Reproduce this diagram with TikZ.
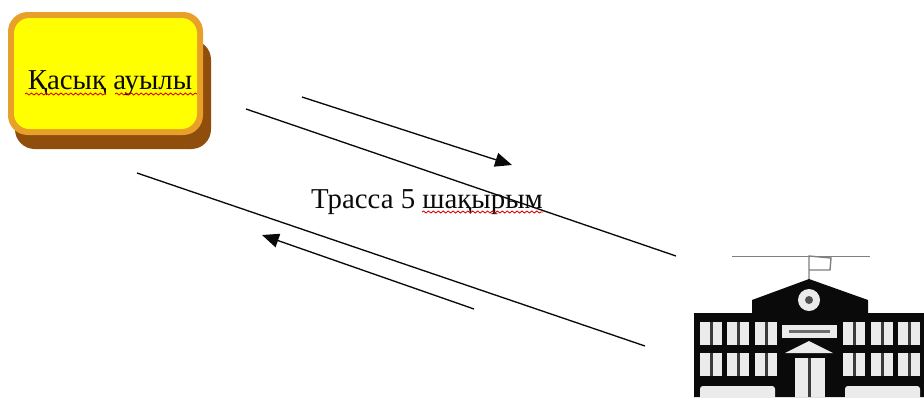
\documentclass[tikz,border=0pt]{standalone}
\usepackage{fontspec}
\setmainfont{Liberation Serif}
\usetikzlibrary{arrows.meta,decorations.pathmorphing}
\definecolor{boxshadow}{HTML}{8F4E0C}
\definecolor{boxrim}{HTML}{E8A028}
\definecolor{boxfill}{HTML}{FFFF00}
\definecolor{inkblack}{HTML}{0A0A0A}
\tikzset{
  road/.style={draw=inkblack, line width=0.95pt},
  way/.style={road, -{Triangle[length=12pt, width=10pt]}},
  squiggle/.style={draw=red!85!black, line width=0.6pt, decorate,
    decoration={snake, amplitude=0.7pt, segment length=3.5pt}},
  label/.style={text=inkblack, font=\fontsize{20.5}{24}\selectfont, inner sep=0pt},
  pane/.style={fill=white!92!black},
}
\begin{document}
\begin{tikzpicture}[x=0.025cm, y=-0.025cm]
        \useasboundingbox (0, 0) rectangle (924, 397);

        % village box
        \fill[boxshadow, rounded corners=14] (15, 40) rectangle (211, 149);
        \fill[boxrim, rounded corners=14] (8, 12) rectangle (203, 135);
        \fill[boxfill, rounded corners=11] (14, 18) rectangle (197, 129);
        \node[label] (village) at (110, 83) {Қасық ауылы};
        \draw[squiggle] (25, 94) -- (106, 94);
        \draw[squiggle] (115, 94) -- (197, 94);

        % roads
        \coordinate (A1) at (302, 97);
        \coordinate (A2) at (512, 165);
        \coordinate (B1) at (246, 109);
        \coordinate (B2) at (676, 256);
        \coordinate (C1) at (137, 173);
        \coordinate (C2) at (645, 346);
        \coordinate (D1) at (474, 309);
        \coordinate (D2) at (262, 235);
        \draw[way] (A1) -- (A2);
        \draw[road] (B1) -- (B2);
        \draw[road] (C1) -- (C2);
        \draw[way] (D1) -- (D2);

        \node[label] (track) at (427, 202) {Трасса 5 шақырым};
        \draw[squiggle] (422, 212) -- (543, 212);

        % school
        \draw[gray, line width=0.7pt] (732, 256) -- (870, 256);
        \draw[gray, line width=1pt] (809, 280) -- (809, 256) -- (831, 258) -- (830, 270) -- (809, 270);
        \fill[inkblack] (694, 397) -- (694, 313) -- (752, 313) -- (752, 300)
          -- (809, 279) -- (868, 300) -- (868, 313) -- (924, 313) -- (924, 397) -- cycle;
        \fill[pane] (809, 300) circle (11);
        \fill[inkblack!70] (809, 300) circle (4);
        \foreach \wy in {322, 353} {
          \foreach \wx in {700, 727, 755, 843, 871, 898} {
            \fill[pane] (\wx, \wy) rectangle ++(22, 23);
            \fill[inkblack!80] (\wx+10, \wy) rectangle ++(3, 23);
          }
        }
        \fill[pane] (782, 325) rectangle (837, 338);
        \fill[inkblack!60] (789, 330) rectangle (830, 333);
        \fill[pane] (809, 341) -- (785, 353) -- (833, 353) -- cycle;
        \fill[pane] (795, 358) rectangle (825, 397);
        \fill[inkblack!80] (808, 358) rectangle (811, 397);
        \fill[pane, rounded corners=2] (700, 386) rectangle (775, 400);
        \fill[pane, rounded corners=2] (845, 386) rectangle (920, 400);
      \end{tikzpicture}
\end{document}
